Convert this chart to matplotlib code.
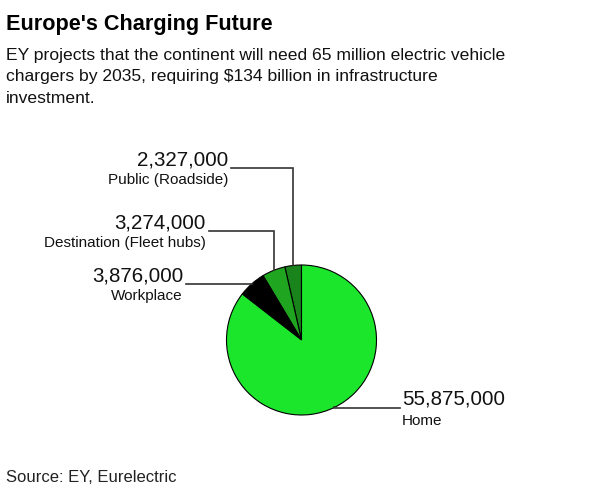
import numpy as np
import matplotlib.pyplot as plt

plt.rcParams['font.family'] = ['Liberation Sans', 'DejaVu Sans']

# data
categories = ['Public (Roadside)', 'Destination (Fleet hubs)', 'Workplace', 'Home']
values = [2327000, 3274000, 3876000, 55875000]
colors = ['#1a841c', '#1fa520', '#000000', '#1be62b']

W, H = 600, 490
fig = plt.figure(figsize=(W / 100, H / 100), dpi=100)
ax = fig.add_axes([0, 0, 1, 1])

cx, cy, r = 301.5, 340, 75

# pie, going round from 12 o'clock (y axis is flipped so counterclock=False)
wedges, _ = ax.pie(values, colors=colors, startangle=-90, counterclock=False,
                   center=(cx, cy), radius=r, frame=True,
                   wedgeprops=dict(edgecolor='black', linewidth=0.8))
ax.set_xlim(0, W)
ax.set_ylim(H, 0)
ax.set_aspect('equal')
ax.axis('off')

# label heights (pixels from top) for the leader lines
line_y = [168, 231, 284, 407.5]
line_x_end = [231, 209, 186, 400]

for w, cat, val, ly, lx in zip(wedges, categories, values, line_y, line_x_end):
    ang = np.deg2rad((w.theta1 + w.theta2) / 2)
    px = cx + r * np.cos(ang)
    py = cy + r * np.sin(ang)
    ax.plot([px, px, lx], [py, ly, ly], color='#333333', lw=1.2,
            solid_joinstyle='miter')
    if lx < cx:
        ax.text(lx - 3, ly - 3, f'{val:,}', ha='right', va='baseline',
                fontsize=14.8, color='#111111')
        ax.text(lx - 3, ly + 12, cat, ha='right', va='center',
                fontsize=11, color='#111111')
    else:
        ax.text(lx + 2, ly - 3, f'{val:,}', ha='left', va='baseline',
                fontsize=14.8, color='#111111')
        ax.text(lx + 2, ly + 13, cat, ha='left', va='center',
                fontsize=11, color='#111111')

fig.text(6 / W, 1 - 30 / H, "Europe's Charging Future", fontsize=15.6,
         fontweight='bold', ha='left', va='baseline')
sub = ["EY projects that the continent will need 65 million electric vehicle",
       "chargers by 2035, requiring $134 billion in infrastructure",
       "investment."]
for i, s in enumerate(sub):
    fig.text(6 / W, 1 - (60 + i * 21.5) / H, s, fontsize=12.6,
             ha='left', va='baseline', color='#111111')

fig.text(6 / W, 1 - 482 / H, 'Source: EY, Eurelectric', fontsize=12,
         ha='left', va='baseline', color='#222222')

fig.savefig('out.png', dpi=100)
